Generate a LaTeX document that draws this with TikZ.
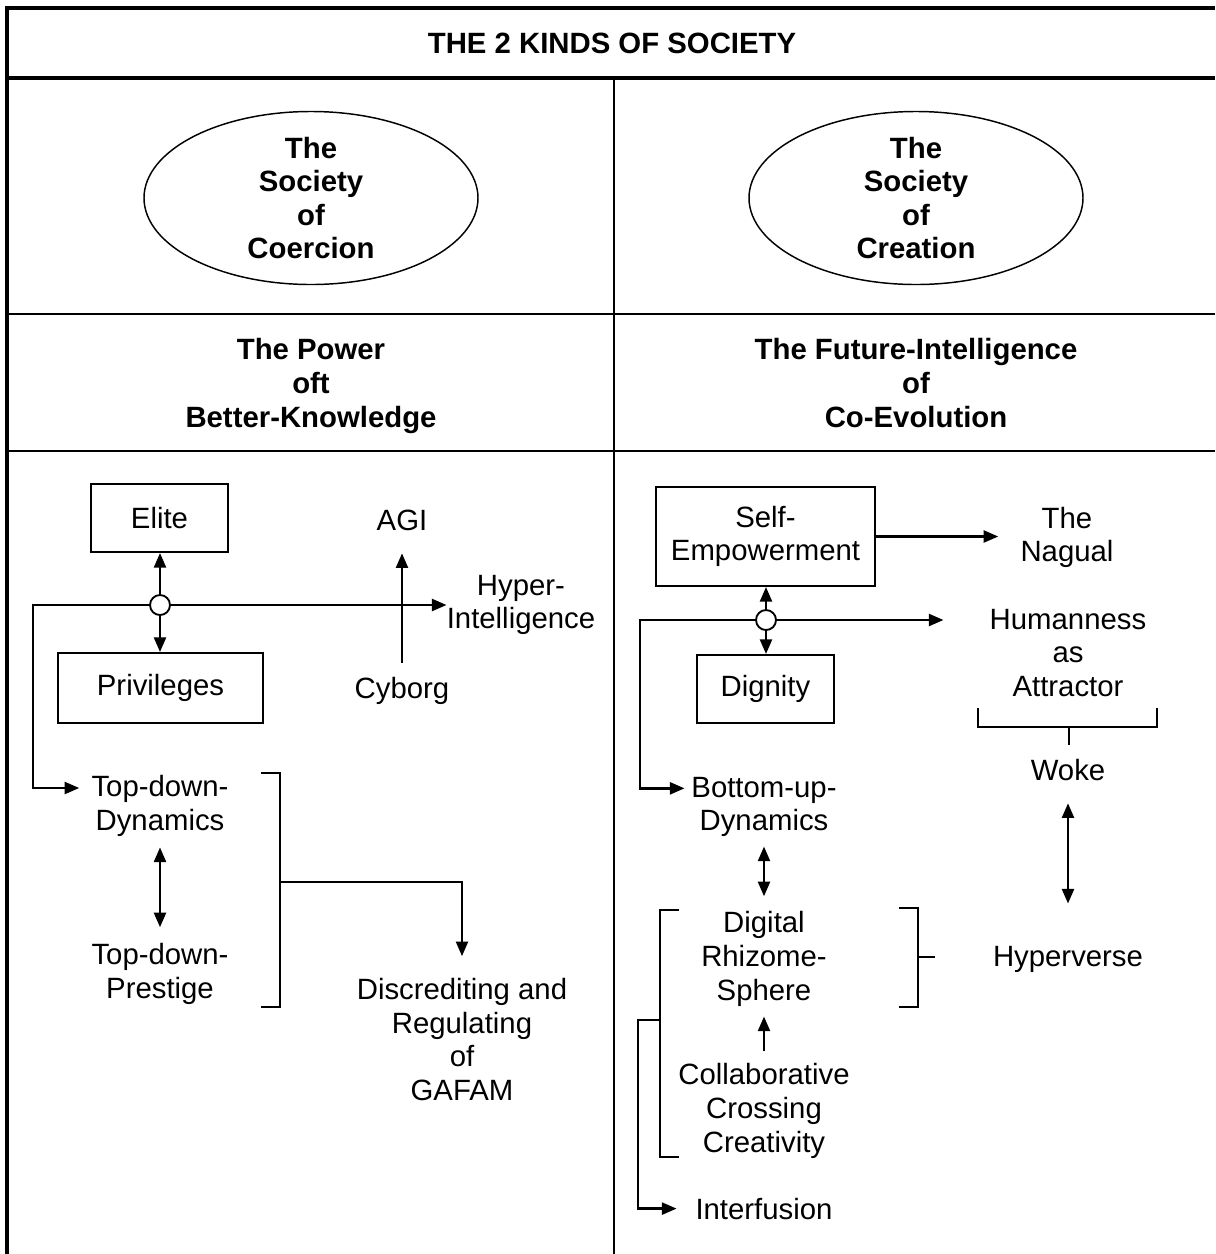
\documentclass[tikz,border=0pt]{standalone}
\usepackage{fontspec}
\setmainfont{Liberation Sans}
\usepackage{tikz}
\usetikzlibrary{shapes, arrows.meta, calc}

\tikzset{
  txt/.style={font=\fontsize{22}{25.2}\selectfont, align=center, inner sep=0pt},
  hdr/.style={txt, font=\fontsize{22}{25.2}\selectfont\bfseries},
  outerline/.style={line width=3pt},
  gridline/.style={line width=1.8pt},
  box/.style={txt, draw, line width=1.5pt},
  society/.style={hdr, ellipse, draw, line width=1.1pt, minimum width=250.5pt, minimum height=128pt},
  hub/.style={circle, draw, fill=white, line width=1.4pt, minimum size=15pt, inner sep=0pt},
  arr/.style={line width=1.8pt, -{Triangle[length=11pt, width=9pt]}},
  darr/.style={line width=1.8pt, {Triangle[length=11pt, width=9pt]}-{Triangle[length=11pt, width=9pt]}},
  brk/.style={line width=1.6pt},
  thinbrk/.style={line width=1.2pt},
}

\begin{document}
\begin{tikzpicture}[x=0.75pt, y=-0.75pt]
  \useasboundingbox (0,0) rectangle (1215,1254);

  % Table
  \draw[outerline] (7,1254) -- (7,8) -- (1215,8);
  \draw[outerline] (7,78) -- (1215,78);
  \draw[gridline] (7,314) -- (1215,314);
  \draw[gridline] (7,451) -- (1215,451);
  \draw[gridline] (614,78) -- (614,1254);

  \node[hdr] (title) at (612,43) {THE 2 KINDS OF SOCIETY};

  % The two societies
  \node[society] (coercion) at (311,198) {The\\Society\\of\\Coercion};
  \node[society] (creation) at (916,198) {The\\Society\\of\\Creation};

  \node[hdr] (power) at (311,386) {The Power\\oft\\Better-Knowledge};
  \node[hdr] (future) at (916,383) {The Future-Intelligence\\of\\Co-Evolution};

  % Coercion side
  \node[box, minimum width=102.75pt, minimum height=51pt] (elite) at (159.5,518) {Elite};
  \node[box, minimum width=153.75pt, minimum height=52.5pt] (priv) at (160.5,688) {Privileges};
  \node[hub] (hubL) at (160,605) {};
  \node[txt] (agi) at (402,520) {AGI};
  \node[txt] (cyborg) at (402,690.6) {Cyborg};
  \node[txt] (hyper) at (521,605) {Hyper-\\Intelligence};
  \node[txt] (tddyn) at (160,806) {Top-down-\\Dynamics};
  \node[txt] (tdprest) at (160,974) {Top-down-\\Prestige};
  \node[txt] (discr) at (462,1039.6) {Discrediting and\\Regulating\\of\\GAFAM};
  \coordinate (loopL) at (33,605);
  \coordinate (brkL) at (280,882);

  \draw[arr] (hubL.north) -- (hubL.north |- elite.south);
  \draw[arr] (hubL.south) -- (hubL.south |- priv.north);
  \draw[arr] (hubL.east) -- (hubL.east -| hyper.west);
  \draw[arr] (hubL.west) -- (loopL) |- ([xshift=-9pt, yshift=13.5pt]tddyn.west);
  \draw[arr, shorten <=10.5pt, shorten >=17pt] (cyborg) -- (agi);
  \draw[darr, shorten <=8pt, shorten >=12pt] (tddyn) -- (tdprest);
  \draw[brk] (261,773) -- (280,773) -- (280,1007) -- (261,1007);
  \draw[arr, shorten >=16.5pt] (brkL) -| (discr);

  % Creation side
  \node[box, minimum width=164.25pt, minimum height=74.25pt] (selfemp) at (765.5,536.5) {Self-\\Empowerment};
  \node[txt] (nagual) at (1067,537.6) {The\\Nagual};
  \node[hub] (hubR) at (766,620) {};
  \node[box, minimum width=102.75pt, minimum height=51pt] (dignity) at (765.5,689) {Dignity};
  \node[txt] (human) at (1068,653) {Humanness\\as\\Attractor};
  \node[txt] (woke) at (1068,769.6) {Woke};
  \node[txt] (hyperv) at (1068,959.6) {Hyperverse};
  \node[txt] (botup) at (764,807) {Bottom-up-\\Dynamics};
  \node[txt] (digital) at (764,959) {Digital\\Rhizome-\\Sphere};
  \node[txt] (collab) at (764,1111) {Collaborative\\Crossing\\Creativity};
  \node[txt] (interf) at (764,1208.6) {Interfusion};
  \coordinate (loopR) at (640,620);
  \coordinate (brkR) at (660,1020);
  \coordinate (loopB) at (638,1020);

  \draw[arr, shorten >=16.5pt] (selfemp.east) -- (selfemp.east -| nagual.west);
  \draw[arr] (hubR.north) -- (hubR.north |- selfemp.south);
  \draw[arr] (hubR.south) -- (hubR.south |- dignity.north);
  \draw[arr, shorten >=34.5pt] (hubR.east) -- (hubR.east -| human.west);
  \draw[arr] (hubR.west) -- (loopR) |- ([xshift=-5pt, yshift=14pt]botup.west);
  \draw[thinbrk] (978,708) -- (978,727) -- (1157,727) -- (1157,708);
  \draw[thinbrk] (1069,727) -- (1069,745);
  \draw[darr, shorten <=17pt, shorten >=32pt] (woke) -- (hyperv);
  \draw[darr, shorten <=7pt, shorten >=11.4pt] (botup) -- (digital);
  \draw[thinbrk] (679,910) -- (660,910) -- (660,1157) -- (679,1157);
  \draw[thinbrk] (899,908) -- (918,908) -- (918,1007) -- (899,1007);
  \draw[thinbrk] (918,957) -- (935,957);
  \draw[arr, shorten <=9pt, shorten >=7.5pt] (collab) -- (digital);
  \draw[arr, shorten >=14pt] (brkR) -- (loopB) |- (interf.west);
\end{tikzpicture}
\end{document}
